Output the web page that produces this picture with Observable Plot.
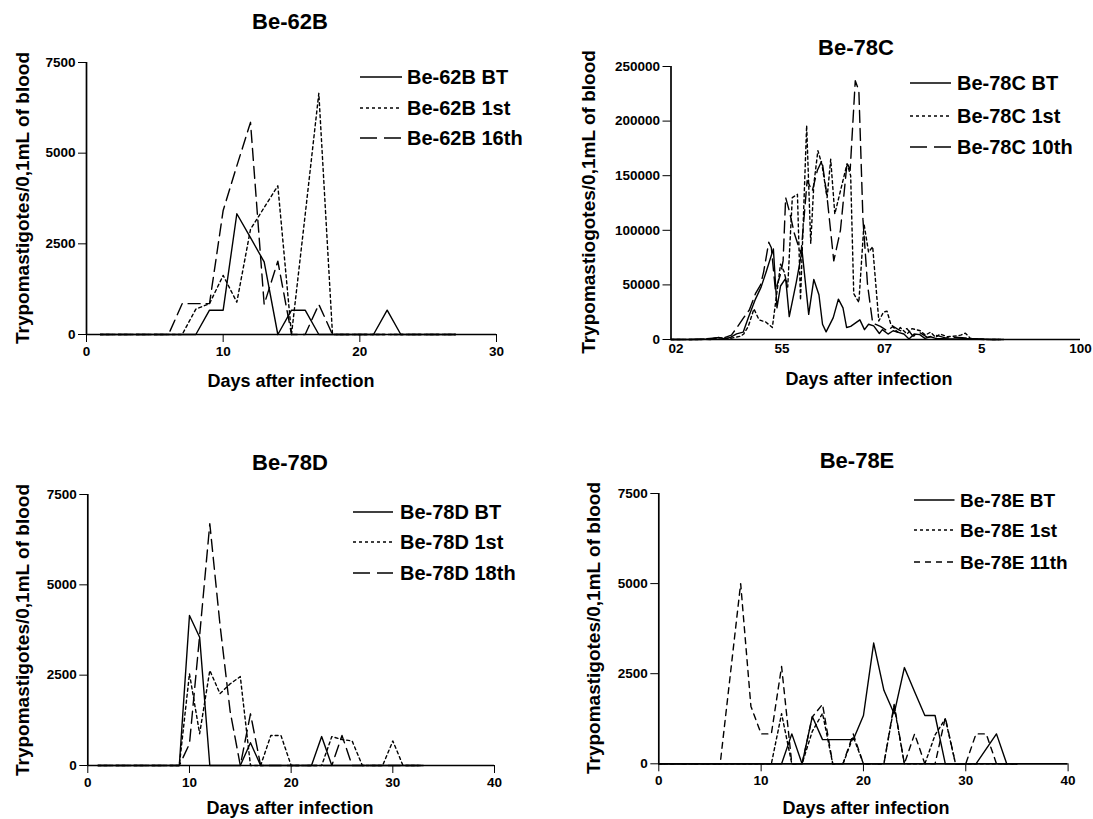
<!DOCTYPE html>
<html><head><meta charset="utf-8">
<script src="https://cdn.jsdelivr.net/npm/d3@7"></script>
<script src="https://cdn.jsdelivr.net/npm/@observablehq/plot@0.6"></script>
<style>
html,body{margin:0;padding:0;background:#fff;}
#root{position:relative;width:1093px;height:819px;overflow:hidden;font-family:'Liberation Sans',Arial,Helvetica,sans-serif;font-weight:bold;color:#000;}
.abs{position:absolute;white-space:nowrap;line-height:1;}
.c{transform:translate(-50%,-50%);}
.r{transform:translate(-50%,-50%) rotate(-90deg);}
.lg{transform:translate(0,-50%);}
svg.plot{position:absolute;}
</style></head><body><div id="root"></div>
<script>
// ---------- DATA ----------
const titles = ["Be-62B", "Be-78C", "Be-78D", "Be-78E"];
const yLabels = ["Trypomastigotes/0,1mL of blood", "Trypomastiogotes/0,1mL of blood",
                 "Trypomastigotes/0,1mL of blood", "Trypomastigotes/0,1mL of blood"];
const xLabel = "Days after infection";

// Panel 1: Be-62B (days 1..27)
const p1Days = [1,2,3,4,5,6,7,8,9,10,11,12,13,14,15,16,17,18,19,20,21,22,23,24,25,26,27];
const p1BT   = [0,0,0,0,0,0,0,0,670,670,3330,2670,2000,0,670,670,0,0,0,0,0,670,0,0,0,0,0];
const p1First= [0,0,0,0,0,0,0,700,850,1630,890,2900,3500,4100,0,3300,6650,0,0,0,0,0,0,0,0,0,0];
const p1Late = [0,0,0,0,0,0,850,850,850,3420,4650,5850,830,2020,0,0,830,0,0,0,0,0,0,0,0,0,0];
const p1Names = ["Be-62B BT", "Be-62B 1st", "Be-62B 16th"];
const p1XTicks = [0,10,20,30];
const p1YTicks = [0,2500,5000,7500];

// Panel 2: Be-78C (irregular sampling along the axis)
const p2BTx = [20,23.8,25.8,27.7,29.3,30.6,31.7,32.8,34.1,35.1,36.5,37.6,38.6,40.0,40.7,41.4,42.4,43.1,44.5,45.6,46.9,47.9,48.9,49.6,50.3,51.7,52.7,53.6,54.3,55.1,56.9,57.8,58.6,59.6,60.7,61.3,62.4,63.4,64.4,65.5,66.5,67.5,68.6,69.6,70.7,71.7,73.0,74.4,75.8,77.1,78.5,80.7,82.7,85];
const p2BTy = [0,0,500,0,2000,500,2100,5200,6700,20000,37000,48000,62000,83000,29000,49000,56000,21000,53000,81500,23000,55000,41000,14000,7000,20000,37000,29000,11000,12000,18000,9000,14000,12500,5500,9000,5000,8000,6500,5000,500,5000,4500,1000,2500,1000,800,600,500,800,800,400,0,0];
const p2Firstx = [20,25.8,29.7,31.6,33.6,34.2,35.1,36.2,37.2,38.5,39.8,41.4,42.1,42.8,43.7,44.7,45.3,46.5,47.3,47.9,48.7,49.5,50.5,51.2,52.0,53.1,54.4,55.1,55.7,56.7,57.7,58.6,59.4,60.6,61.5,62.2,62.9,64.2,64.8,66.1,67.1,68.7,69.7,70.7,71.7,72.6,74.0,75.2,76.6,77.5,78.5,79.8,81.8,84.4];
const p2Firsty = [0,0,1500,1000,3000,5000,12000,28000,18000,16000,11000,69000,62000,48000,130000,133000,36000,196000,88000,142000,173000,160000,130000,165000,115000,136000,161000,150000,42000,34000,106000,80000,85000,17000,25000,26000,14700,6700,11000,5000,10000,8000,4000,6700,2000,5000,2500,3000,4000,5800,1000,500,0,0];
const p2Latex = [20,25.8,28.7,30.6,31.8,32.9,34.2,35.3,36.5,37.5,38.1,39.1,39.6,40.4,41.4,41.9,42.4,43.1,44.1,45.4,46.6,47.6,48.6,49.5,50.5,51.8,53.1,54.4,55.0,56.0,56.7,57.5,58.4,59.4,60.9,62.2,63.4,64.8,66.1,67.3,68.7,70.1,71.7,73.6,75.6,77.5,79.5,81.4,84];
const p2Latey = [0,0,1500,2000,4000,11000,20000,27000,42000,50000,62000,89000,84000,45000,60000,72000,130000,118000,97000,78500,145600,136000,155000,164000,130000,72000,100000,162000,155000,237000,228000,110000,50000,15000,12000,8000,12000,8000,10000,3000,6000,2000,4000,1500,2000,1500,500,0,0];
const p2Names = ["Be-78C BT", "Be-78C 1st", "Be-78C 10th"];
const p2XTicks = [21,41.7,61.7,80.7,100];
const p2XTickLabels = ["02","55","07","5","100"];
const p2YTicks = [0,50000,100000,150000,200000,250000];

// Panel 3: Be-78D (days 1..33)
const p3Days = [1,2,3,4,5,6,7,8,9,10,11,12,13,14,15,16,17,18,19,20,21,22,23,24,25,26,27,28,29,30,31,32,33];
const p3BT   = [0,0,0,0,0,0,0,0,0,4150,3550,0,0,0,0,630,0,0,0,0,0,0,800,0,0,0,0,0,0,0,0,0,0];
const p3First= [0,0,0,0,0,0,0,0,0,2540,880,2630,1990,2260,2460,0,0,830,830,0,0,0,0,800,720,680,0,0,0,680,0,0,0];
const p3Late = [0,0,0,0,0,0,0,0,0,600,3600,6690,3900,1500,0,1430,0,0,0,0,0,0,0,0,830,0,0,0,0,0,0,0,0];
const p3Names = ["Be-78D BT", "Be-78D 1st", "Be-78D 18th"];
const p3XTicks = [0,10,20,30,40];
const p3YTicks = [0,2500,5000,7500];

// Panel 4: Be-78E (days 0..35)
const p4Days = [0,1,2,3,4,5,6,7,8,9,10,11,12,13,14,15,16,17,18,19,20,21,22,23,24,25,26,27,28,29,30,31,32,33,34,35];
const p4BT   = [0,0,0,0,0,0,0,0,0,0,0,0,0,830,0,1310,670,670,670,670,1340,3350,2040,1390,2670,2000,1340,1340,0,0,0,0,415,830,0,0];
const p4First= [0,0,0,0,0,0,0,0,0,0,0,0,1390,0,0,900,1400,0,0,750,0,0,0,1600,0,0,0,800,1250,0,0,0,0,0,0,0];
const p4Late = [0,0,0,0,0,0,0,2500,5000,1600,830,830,2700,0,0,1300,1650,0,0,830,0,0,0,1650,0,830,0,0,1280,0,0,830,830,0,0,0];
const p4Names = ["Be-78E BT", "Be-78E 1st", "Be-78E 11th"];
const p4XTicks = [0,10,20,30,40];
const p4YTicks = [0,2500,5000,7500];

// ---------- BUILD ----------
const pairs = (xs, ys) => xs.map((x, i) => ({x, y: ys[i]}));
const dashes = [null, "3,3", "12,6"];
const dashes4 = [null, "3,3", "6,5"];

const panels = [
  {series: [pairs(p1Days,p1BT), pairs(p1Days,p1First), pairs(p1Days,p1Late)], names: p1Names, dash: dashes,
   xDomain: [0,30], yDomain: [0,7500], xTicks: p1XTicks, yTicks: p1YTicks, xFmt: d3.format("d"), xTickSize: 8,
   box: {left:0, top:0, width:546, height:400, ml:86, mr:50, mt:62, mb:66},
   title: [290,22], xl: [291,381], yl: [22,198],
   leg: {x1:360, x2:402, tx:407, ys:[76.7,108,138], fs:20}},
  {series: [pairs(p2BTx,p2BTy), pairs(p2Firstx,p2Firsty), pairs(p2Latex,p2Latey)], names: p2Names, dash: dashes,
   xDomain: [20,100], yDomain: [0,250000], xTicks: p2XTicks, yTicks: p2YTicks,
   xFmt: (d, i) => p2XTickLabels[i], xTickSize: 0,
   box: {left:546, top:0, width:547, height:400, ml:124.5, mr:13, mt:66, mb:61},
   title: [856,48], xl: [869,379], yl: [588,202],
   leg: {x1:910, x2:951, tx:957, ys:[83,116,147], fs:20}},
  {series: [pairs(p3Days,p3BT), pairs(p3Days,p3First), pairs(p3Days,p3Late)], names: p3Names, dash: dashes,
   xDomain: [0,40], yDomain: [0,7500], xTicks: p3XTicks, yTicks: p3YTicks, xFmt: d3.format("d"), xTickSize: 8,
   box: {left:0, top:420, width:546, height:399, ml:87.3, mr:52, mt:74, mb:54},
   title: [290,463], xl: [290,808], yl: [22,630],
   leg: {x1:353, x2:393, tx:400, ys:[511.7,541.7,573.3], fs:20}},
  {series: [pairs(p4Days,p4BT), pairs(p4Days,p4First), pairs(p4Days,p4Late)], names: p4Names, dash: dashes4,
   xDomain: [0,40], yDomain: [0,7500], xTicks: p4XTicks, yTicks: p4YTicks, xFmt: d3.format("d"), xTickSize: 8,
   box: {left:546, top:420, width:547, height:399, ml:112.3, mr:25.4, mt:73, mb:55.7},
   title: [857,461], xl: [866,808], yl: [593,628],
   leg: {x1:914, x2:954.5, tx:960, ys:[500,530,561.7], fs:19}}
];

const root = document.getElementById("root");
function addText(txt, x, y, cls, size) {
  const d = document.createElement("div");
  d.className = "abs " + cls;
  d.style.left = x + "px"; d.style.top = y + "px"; d.style.fontSize = size + "px";
  d.textContent = txt;
  root.appendChild(d);
}

panels.forEach((p, k) => {
  const b = p.box;
  const lineMarks = p.series.map((s, i) => Plot.line(s, {x: "x", y: "y", stroke: "black", strokeWidth: 1.4,
      strokeDasharray: p.dash[i] || undefined}));
  const svg = Plot.plot({
    width: b.width, height: b.height,
    marginLeft: b.ml, marginRight: b.mr, marginTop: b.mt, marginBottom: b.mb,
    x: {domain: p.xDomain, ticks: p.xTicks, tickFormat: p.xFmt, tickSize: p.xTickSize, tickPadding: 4, label: null},
    y: {domain: p.yDomain, ticks: p.yTicks, tickFormat: d3.format("d"), tickSize: 8, tickPadding: 3, label: null},
    marks: [
      ...lineMarks,
      Plot.ruleX([p.xDomain[0]], {strokeWidth: 1.7}),
      Plot.ruleY([0], {strokeWidth: 1.7})
    ],
    style: {fontFamily: "'Liberation Sans', Arial, sans-serif", fontSize: "13.5px", fontWeight: "bold",
            color: "black", background: "transparent", overflow: "visible"}
  });
  svg.classList.add("plot");
  svg.style.left = b.left + "px"; svg.style.top = b.top + "px";
  root.appendChild(svg);

  addText(titles[k], p.title[0], p.title[1], "c", 22);
  addText(xLabel, p.xl[0], p.xl[1], "c", 18);
  addText(yLabels[k], p.yl[0], p.yl[1], "r", 19);

  // legend
  p.names.forEach((name, i) => {
    const y = p.leg.ys[i];
    const ns = "http://www.w3.org/2000/svg";
    const s = document.createElementNS(ns, "svg");
    s.setAttribute("width", p.leg.x2 - p.leg.x1);
    s.setAttribute("height", 4);
    s.style.position = "absolute";
    s.style.left = p.leg.x1 + "px"; s.style.top = (y - 2) + "px";
    const l = document.createElementNS(ns, "line");
    l.setAttribute("x1", 0); l.setAttribute("x2", p.leg.x2 - p.leg.x1);
    l.setAttribute("y1", 2); l.setAttribute("y2", 2);
    l.setAttribute("stroke", "black"); l.setAttribute("stroke-width", 1.6);
    if (p.dash[i]) l.setAttribute("stroke-dasharray", i === 2 && k !== 3 ? "17,7" : p.dash[i]);
    s.appendChild(l);
    root.appendChild(s);
    addText(name, p.leg.tx, y, "lg", p.leg.fs);
  });
});
</script></body></html>
